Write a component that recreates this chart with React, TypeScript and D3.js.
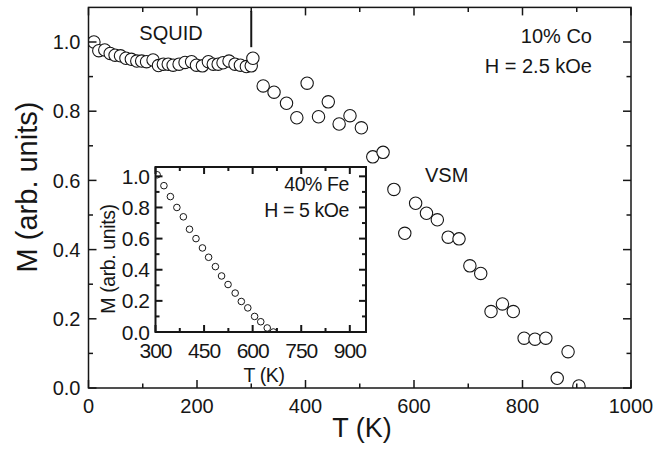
import * as d3 from 'd3';

// main panel: SQUID + VSM data, 10% Co
const squidT = [10, 19, 30, 40, 49, 59, 69, 79, 89, 98, 107, 119, 129, 138, 147, 156, 167, 178, 190, 199, 210, 221, 230, 239, 248, 259, 270, 280, 291, 300, 303];
const squidM = [1.0, 0.975, 0.977, 0.967, 0.962, 0.96, 0.953, 0.95, 0.945, 0.945, 0.943, 0.948, 0.932, 0.936, 0.936, 0.933, 0.936, 0.941, 0.943, 0.933, 0.931, 0.943, 0.936, 0.936, 0.94, 0.945, 0.936, 0.933, 0.929, 0.931, 0.953];
const vsmT = [322, 342, 365, 384, 403, 424, 442, 462, 482, 503, 524, 543, 563, 583, 603, 623, 643, 663, 683, 703, 723, 742, 763, 783, 803, 823, 843, 864, 884, 904];
const vsmM = [0.873, 0.855, 0.823, 0.781, 0.881, 0.784, 0.827, 0.763, 0.787, 0.752, 0.668, 0.681, 0.574, 0.447, 0.534, 0.505, 0.486, 0.436, 0.431, 0.353, 0.331, 0.221, 0.243, 0.221, 0.144, 0.141, 0.144, 0.028, 0.105, 0.006];

// inset: 40% Fe
const feT = [305, 326, 346, 366, 386, 405, 425, 445, 464, 485, 504, 524, 546, 565, 585, 606, 625, 645, 664];
const feM = [1.01, 0.94, 0.87, 0.8, 0.74, 0.66, 0.6, 0.54, 0.48, 0.42, 0.36, 0.305, 0.25, 0.196, 0.155, 0.1, 0.066, 0.026, 0.0];

const xTicks = [0, 200, 400, 600, 800, 1000];
const yTicks = [0, 0.2, 0.4, 0.6, 0.8, 1.0];
const xInTicks = [300, 450, 600, 750, 900];
const yInTicks = [0, 0.2, 0.4, 0.6, 0.8, 1.0];

const W = 669;
const H = 451;
const FONT = '"Liberation Sans", Arial, Helvetica, sans-serif';
const INK = '#161616';

const x = d3.scaleLinear().domain([0, 1000]).range([88.5, 631]);
const y = d3.scaleLinear().domain([0, 1.1]).range([388, 7.4]);
const xi = d3.scaleLinear().domain([300, 950]).range([155.5, 366]);
const yi = d3.scaleLinear().domain([0, 1.06]).range([332, 167]);

const mainPts = [
  ...squidT.map((t, i) => ({ t, m: squidM[i] })),
  ...vsmT.map((t, i) => ({ t, m: vsmM[i] })),
];
const fePts = feT.map((t, i) => ({ t, m: feM[i] }));

// box with inward ticks on all four sides
function Frame({ sx, sy, xt, yt, xMinor, yMinor, major, minor, sw }: any) {
  const [x0, x1] = sx.range();
  const [y0, y1] = sy.range();
  const lines: any[] = [];
  xt.forEach((v: number, i: number) => {
    const p = sx(v);
    lines.push(<line key={'xb' + i} x1={p} x2={p} y1={y0} y2={y0 - major} />);
    lines.push(<line key={'xt' + i} x1={p} x2={p} y1={y1} y2={y1 + major} />);
  });
  xMinor.forEach((v: number, i: number) => {
    const p = sx(v);
    lines.push(<line key={'xbm' + i} x1={p} x2={p} y1={y0} y2={y0 - minor} />);
    lines.push(<line key={'xtm' + i} x1={p} x2={p} y1={y1} y2={y1 + minor} />);
  });
  yt.forEach((v: number, i: number) => {
    const p = sy(v);
    lines.push(<line key={'yl' + i} x1={x0} x2={x0 + major} y1={p} y2={p} />);
    lines.push(<line key={'yr' + i} x1={x1} x2={x1 - major} y1={p} y2={p} />);
  });
  yMinor.forEach((v: number, i: number) => {
    const p = sy(v);
    lines.push(<line key={'ylm' + i} x1={x0} x2={x0 + minor} y1={p} y2={p} />);
    lines.push(<line key={'yrm' + i} x1={x1} x2={x1 - minor} y1={p} y2={p} />);
  });
  return (
    <g stroke={INK} strokeWidth={sw} fill="none">
      {lines}
      <rect x={x0} y={y1} width={x1 - x0} height={y0 - y1} />
    </g>
  );
}

export default function App() {
  const [mx0, mx1] = x.range();
  const [my0, my1] = y.range();
  const [ix0, ix1] = xi.range();
  const [iy0, iy1] = yi.range();

  return (
    <div style={{ position: 'absolute', left: 0, top: 0 }}>
      <svg width={W} height={H} style={{ display: 'block', background: '#fff' }} fontFamily={FONT}>
        <defs>
          <clipPath id="clipMain">
            <rect x={mx0} y={my1} width={mx1 - mx0} height={my0 - my1} />
          </clipPath>
          <clipPath id="clipIn">
            <rect x={ix0} y={iy1} width={ix1 - ix0} height={iy0 - iy1} />
          </clipPath>
        </defs>

        {/* main data */}
        <g clipPath="url(#clipMain)">
          {mainPts.map((d, i) => (
            <circle key={i} cx={x(d.t)} cy={y(d.m)} r={6.2} fill="#fff" stroke={INK} strokeWidth={1.1} />
          ))}
        </g>

        {/* SQUID / VSM boundary marker */}
        <line x1={x(300)} x2={x(300)} y1={y(1.09)} y2={y(0.985)} stroke={INK} strokeWidth={2} />

        <Frame
          sx={x}
          sy={y}
          xt={xTicks}
          yt={yTicks}
          xMinor={d3.range(100, 1000, 200)}
          yMinor={[0.1, 0.3, 0.5, 0.7, 0.9]}
          major={8}
          minor={4.5}
          sw={1.5}
        />

        {/* main tick labels */}
        <g fontSize={20} fill={INK}>
          {xTicks.map((v) => (
            <text key={v} x={x(v)} y={413} textAnchor="middle">{v}</text>
          ))}
          {yTicks.map((v) => (
            <text key={v} x={mx0 - 8} y={y(v)} dy="0.36em" textAnchor="end">{v.toFixed(1)}</text>
          ))}
        </g>

        <text x={362} y={437} fontSize={27} textAnchor="middle" fill={INK}>T (K)</text>
        <text transform={`translate(37,187) rotate(-90)`} fontSize={29} textAnchor="middle" fill={INK}>M (arb. units)</text>

        <g fontSize={20} fill={INK}>
          <text x={171} y={40} textAnchor="middle">SQUID</text>
          <text x={592} y={43} textAnchor="end">10% Co</text>
          <text x={592} y={73} textAnchor="end">H = 2.5 kOe</text>
          <text x={425} y={182}>VSM</text>
        </g>

        {/* inset */}
        <rect x={ix0} y={iy1} width={ix1 - ix0} height={iy0 - iy1} fill="#fff" />
        <g clipPath="url(#clipIn)">
          {fePts.map((d, i) => (
            <circle key={i} cx={xi(d.t)} cy={yi(d.m)} r={3.3} fill="#fff" stroke={INK} strokeWidth={1} />
          ))}
        </g>
        <Frame
          sx={xi}
          sy={yi}
          xt={xInTicks}
          yt={yInTicks}
          xMinor={[375, 525, 675, 825]}
          yMinor={[0.1, 0.3, 0.5, 0.7, 0.9]}
          major={7}
          minor={4}
          sw={2}
        />
        <g fontSize={21} fill={INK}>
          {xInTicks.map((v) => (
            <text key={v} x={xi(v)} y={358} textAnchor="middle" letterSpacing={-1}>{v}</text>
          ))}
          {yInTicks.map((v) => (
            <text key={v} x={ix0 - 6} y={yi(v)} dy="0.36em" textAnchor="end" letterSpacing={-0.5}>{v.toFixed(1)}</text>
          ))}
        </g>
        <g fontSize={19.5} fill={INK} letterSpacing={-0.4}>
          <text x={264} y={382} textAnchor="middle">T (K)</text>
          <text transform={`translate(115,259) rotate(-90)`} textAnchor="middle">M (arb. units)</text>
          <text x={349} y={191} textAnchor="end">40% Fe</text>
          <text x={349} y={217} textAnchor="end">H = 5 kOe</text>
        </g>
      </svg>
    </div>
  );
}
